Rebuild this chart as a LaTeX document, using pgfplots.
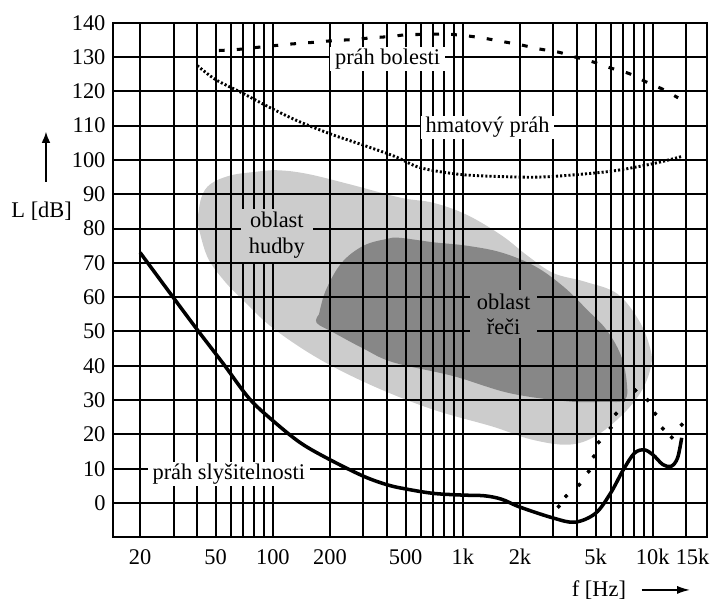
\documentclass[border=0pt]{standalone}
\usepackage{fontspec}
\setmainfont{Liberation Serif}
\usepackage{pgfplots}
\pgfplotsset{compat=1.18}
\usetikzlibrary{arrows.meta}
\definecolor{music}{gray}{0.80}
\definecolor{speech}{gray}{0.53}
\begin{document}
\begin{tikzpicture}[font=\fontsize{14}{16}\selectfont]
\begin{axis}[
  set layers,
  scale only axis, width=371.25pt, height=321.6pt,
  xmode=log, xmin=14.35, xmax=19230, ymin=-10, ymax=140,
  xtick={20,50,100,200,500,1000,2000,5000,10000},
  xticklabels={20,50,100,200,500,1k,2k,5k,10k},
  minor xtick={30,40,60,70,80,90,300,400,600,700,800,900,3000,4000,6000,7000,8000,9000,15000},
  extra x ticks={16200},
  extra x tick labels={15k},
  extra x tick style={grid=none},
  ytick={0,10,...,140},
  grid=both,
  grid style={black, line width=1.25pt},
  major grid style={black, line width=1.25pt},
  minor grid style={black, line width=1.25pt},
  major tick length=0pt, minor tick length=0pt,
  axis line style={black, line width=1.3pt},
  /pgf/number format/assume math mode=true,
  xticklabel style={yshift=-4pt},
  yticklabel style={xshift=-1pt},
]
% music area
\addplot[on layer=axis background, fill=music, draw=none, smooth, tension=0.6] coordinates {
 (40,82) (42,89) (47,93) (60,95.5) (80,96.5) (105,97) (150,96) (250,93) (470,89) (700,87.5)
 (1050,84) (1600,78) (2200,72) (3000,67) (4400,64.5) (6500,61) (8500,53) (9700,45) (9800,40)
 (8800,33) (7000,26) (5000,19.5) (3600,17) (2300,18.5) (1430,22.3) (700,27.2) (340,34)
 (175,42) (100,51) (70,59) (55,65) (45,72) (40,82)} -- cycle;
% speech area
\addplot[on layer=axis background, fill=speech, draw=none, smooth, tension=0.6] coordinates {
 (175,55) (190,62) (230,70) (300,75) (400,77) (466,77.3) (700,76) (1050,75) (1600,73)
 (2400,69) (3400,63) (4500,56.4) (5700,50.5) (6800,43) (7300,35) (7100,30) (5500,29.5)
 (3600,29.6) (1770,32) (890,37) (430,41) (300,45) (210,49.6) (170,52.5) (175,55)} -- cycle;
% threshold of pain
\addplot[black, line width=1.9pt, dash pattern=on 3.6pt off 7.6pt, smooth] coordinates {
 (52,131.9) (65,132.2) (82,132.8) (105,133.4) (125,133.8) (165,134.3) (210,134.8) (265,135.1)
 (330,135.6) (420,136) (505,136.5) (650,136.6) (810,136.7) (1000,136.3) (1260,135.6)
 (1580,134.6) (2000,133.6) (2500,132.4) (3200,131.4) (3900,130) (4900,128.5) (6000,126.8)
 (7500,125.2) (9100,122.9) (11200,120.7) (13600,118.1)};
% threshold of touch
\addplot[black, line width=1.8pt, dash pattern=on 1.3pt off 1.3pt, smooth] coordinates {
 (40,127.5) (50,123.4) (68,119.7) (97,115.2) (136,111.3) (205,107.4) (300,104.3) (440,101)
 (600,97.7) (1000,95.7) (2000,95) (3000,95.2) (6000,96.7) (10000,98.9) (14200,101)};
% threshold of hearing
\addplot[black, line width=2.2pt, smooth, tension=0.55] coordinates {
 (20,73) (30,59.8) (40,50.5) (55,40.5) (75,30.5) (100,24) (140,17.5) (200,12.6)
 (300,7.8) (400,5.3) (500,4.1) (700,2.8) (1000,2.3) (1300,2.1) (1600,1.1) (2000,-1.2)
 (3000,-4.4) (3900,-5.6) (5000,-3) (6000,2.9) (7000,9.7) (8000,14.5) (9000,15.5) (10000,14.1)
 (11300,11.2) (12500,10.7) (13500,13.1) (14200,19)};
% sparse dots
\addplot[only marks, mark=*, mark size=1.2pt, black] coordinates {
 (3200,-1) (3500,2) (4100,5.3) (4600,9.2) (4900,13.6) (5200,17.7) (6000,21.9) (6400,26)
 (7000,30) (8100,32.8) (9400,30) (10300,26) (11300,21.7) (12600,19.1) (14200,22.8)};
% labels
\node[fill=white, inner xsep=3pt, inner ysep=1pt] at (axis cs:402,129.4) {práh bolesti};
\node[fill=white, inner xsep=3pt, inner ysep=1pt] at (axis cs:1350,109.5) {hmatový práh};
\node[fill=white, inner xsep=3pt, inner ysep=1pt] at (axis cs:58.6,8.5) {práh slyšitelnosti};
\node[fill=music, align=center, inner xsep=5pt, inner ysep=2pt] at (axis cs:105,78) {oblast\\hudby};
\node[fill=speech, align=center, inner xsep=4pt, inner ysep=2pt] at (axis cs:1640,55) {oblast\\řeči};
\end{axis}
\node[anchor=base] at (303.9pt,-36.7pt) {f [Hz]};
\draw[line width=1pt, -{Latex[length=8pt,width=5pt]}] (330.6pt,-32.9pt) -- (360.8pt,-32.9pt);
\node[anchor=base] at (-44.4pt,199.6pt) {L [dB]};
\draw[line width=1pt, -{Latex[length=7pt,width=5.5pt]}] (-41.7pt,222.3pt) -- (-41.7pt,253.5pt);
\pgfresetboundingbox
\useasboundingbox (-70.44pt,-39.19pt) rectangle (373.94pt,335.81pt);
\end{tikzpicture}
\end{document}
